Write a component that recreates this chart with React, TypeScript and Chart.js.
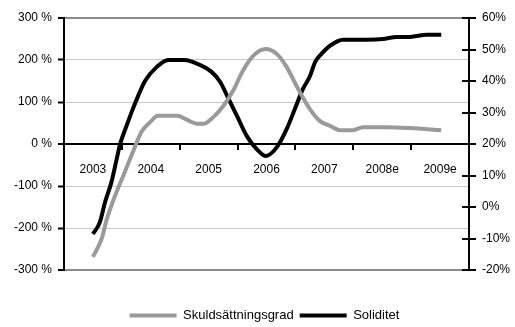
import React, { useEffect, useRef } from "react";
import { Chart, registerables } from "chart.js";

Chart.register(...registerables);

const categories = ["2003", "2004", "2005", "2006", "2007", "2008e", "2009e"];

const skuldX = [
  2003.0, 2003.15, 2003.24, 2003.38, 2003.55, 2003.69, 2003.84, 2003.99, 2004.12, 2004.45,
  2004.68, 2004.8, 2004.91, 2005.08, 2005.25, 2005.42, 2005.59, 2005.77, 2005.99, 2006.18,
  2006.35, 2006.52, 2006.6, 2006.75, 2006.92, 2007.1, 2007.27, 2007.49, 2007.67, 2008.08,
  2008.48, 2009.02,
];
const skuldY = [
  -269, -226, -179, -124, -67, -19, 29, 52, 67, 67,
  54, 48, 48, 64, 90, 126, 174, 210, 226, 214,
  183, 138, 118, 83, 55, 43, 33, 33, 40, 40,
  38, 33,
];

const solX = [
  2003.0, 2003.12, 2003.21, 2003.32, 2003.41, 2003.47, 2003.58, 2003.67, 2003.78, 2003.9,
  2004.1, 2004.3, 2004.59, 2004.73, 2005.05, 2005.2, 2005.33, 2005.49, 2005.66, 2005.83,
  2005.99, 2006.18, 2006.35, 2006.49, 2006.63, 2006.75, 2006.84, 2006.95, 2007.1, 2007.32,
  2007.73, 2008.01, 2008.25, 2008.48, 2008.77, 2009.02,
];
const solY = [
  -8.6, -4.8, 1.6, 7.9, 15.2, 20, 25.7, 30.2, 35.2, 40,
  44.4, 46.7, 46.7, 46, 42.9, 39.7, 34.9, 28.9, 22.5, 18.4,
  16.2, 19, 24.8, 31.1, 37.5, 41.5, 46, 48.6, 51.2, 53.1,
  53.1, 53.3, 54, 54, 54.7, 54.7,
];

const leftTicks = { min: -300, max: 300, step: 100 };
const rightTicks = { min: -20, max: 60, step: 10 };

const innerTicks = {
  id: "innerTicks",
  afterDraw(chart: any) {
    const s = chart.scales.y1;
    if (!s) return;
    const ctx = chart.ctx;
    ctx.save();
    ctx.strokeStyle = "#000";
    ctx.lineWidth = 2;
    s.ticks.forEach((t: any) => {
      const py = Math.round(s.getPixelForValue(t.value));
      ctx.beginPath();
      ctx.moveTo(chart.chartArea.right - 7, py);
      ctx.lineTo(chart.chartArea.right, py);
      ctx.stroke();
    });
    ctx.restore();
  },
};

export default function App() {
  const ref = useRef<HTMLCanvasElement | null>(null);

  useEffect(() => {
    document.body.style.margin = "0";
    const canvas = ref.current;
    if (!canvas) return;
    Chart.defaults.font.family = "'Liberation Sans', Arial, sans-serif";
    Chart.defaults.font.size = 12;
    Chart.defaults.color = "#000";

    const chart = new Chart(canvas, {
      type: "line",
      data: {
        labels: categories,
        datasets: [
          {
            label: "Skuldsättningsgrad",
            data: skuldX.map((x, i) => ({ x, y: skuldY[i] })),
            borderColor: "#9a9a9a",
            backgroundColor: "#9a9a9a",
            borderWidth: 4,
            pointRadius: 0,
            cubicInterpolationMode: "monotone",
            xAxisID: "xd",
            yAxisID: "y",
          },
          {
            label: "Soliditet",
            data: solX.map((x, i) => ({ x, y: solY[i] })),
            borderColor: "#000",
            backgroundColor: "#000",
            borderWidth: 4,
            pointRadius: 0,
            cubicInterpolationMode: "monotone",
            xAxisID: "xd",
            yAxisID: "y1",
          },
        ],
      },
      plugins: [innerTicks],
      options: {
        responsive: false,
        animation: false,
        layout: { padding: { left: 14, top: 18, right: 0, bottom: 0 } },
        plugins: {
          tooltip: { enabled: false },
          legend: {
            position: "bottom",
            labels: {
              usePointStyle: true,
              pointStyle: "line",
              pointStyleWidth: 47,
              padding: 6,
              color: "#000",
              font: { size: 13 },
            },
          },
        },
        scales: {
          xd: {
            type: "linear",
            position: "bottom",
            min: 2002.5,
            max: 2009.5,
            grid: { display: false },
            border: { display: false },
            ticks: { display: false },
            afterFit: (s: any) => {
              s.height = 33;
            },
          },
          x: {
            type: "category",
            position: { y: 0 } as any,
            offset: true,
            grid: {
              offset: true,
              drawOnChartArea: false,
              drawTicks: true,
              tickLength: 5,
              color: "#000",
              lineWidth: 2,
            },
            border: { display: true, color: "#000", width: 2 },
            ticks: { padding: 13, color: "#000", maxRotation: 0, autoSkip: false },
          },
          y: {
            type: "linear",
            position: "left",
            min: leftTicks.min,
            max: leftTicks.max,
            ticks: {
              stepSize: leftTicks.step,
              padding: 6,
              color: "#000",
              callback: (v: any) => `${v} %`,
            },
            grid: {
              color: (c: any) => {
                const v = c.tick?.value;
                if (v === 0) return "#000";
                if (v === 300 || v === -300) return "#8c8c8c";
                return "#c8c8c8";
              },
              lineWidth: (c: any) => {
                const v = c.tick?.value;
                return v === 300 || v === -300 || v === 0 ? 2 : 1;
              },
              tickColor: "#000",
              tickWidth: 2,
              tickLength: 6,
            },
            border: { display: true, color: "#000", width: 2 },
            afterFit: (s: any) => {
              s.width = 50;
            },
          },
          y1: {
            type: "linear",
            position: "right",
            min: rightTicks.min,
            max: rightTicks.max,
            ticks: {
              stepSize: rightTicks.step,
              padding: 6,
              color: "#000",
              callback: (v: any) => `${v}%`,
            },
            grid: {
              drawOnChartArea: false,
              color: "#000",
              lineWidth: 2,
              tickLength: 7,
            },
            border: { display: true, color: "#000", width: 2 },
            afterFit: (s: any) => {
              s.width = 46;
            },
          },
        },
      },
    });
    return () => chart.destroy();
  }, []);

  return (
    <div style={{ width: 515, height: 327, overflow: "hidden" }}>
      <canvas ref={ref} width={515} height={332} style={{ display: "block" }} />
    </div>
  );
}
